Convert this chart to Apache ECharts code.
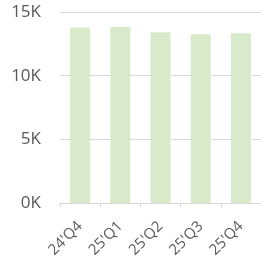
<!DOCTYPE html>
<html>
<head>
<meta charset="utf-8">
<script src="https://cdn.jsdelivr.net/npm/echarts@6/dist/echarts.min.js"></script>
<style>
  html, body { margin: 0; padding: 0; background: #fff; }
  #chart { width: 261px; height: 272px; }
</style>
</head>
<body>
<div id="chart"></div>
<script>
const quarters = ["24'Q4", "25'Q1", "25'Q2", "25'Q3", "25'Q4"]
const values = [13780, 13820, 13410, 13250, 13330]
const yTicks = [0, 5000, 10000, 15000]

const chart = echarts.init(document.getElementById('chart'))

chart.setOption({
  animation: false,
  grid: { left: 60, top: 12, width: 202, height: 191 },
  xAxis: {
    type: 'category',
    data: quarters,
    axisLine: { lineStyle: { color: '#d9d9d9', width: 1 } },
    axisTick: { show: true, length: 4, lineStyle: { color: '#d9d9d9' } },
    axisLabel: {
      rotate: 45,
      color: '#595959',
      fontSize: 15,
      fontFamily: 'Open Sans',
      margin: 21,
    },
  },
  yAxis: {
    type: 'value',
    min: yTicks[0],
    max: yTicks[yTicks.length - 1],
    interval: 5000,
    axisLine: { show: false },
    axisTick: { show: false },
    splitLine: { lineStyle: { color: '#d9d9d9', width: 1 } },
    axisLabel: {
      color: '#595959',
      fontSize: 17,
      fontFamily: 'Open Sans',
      margin: 19,
      formatter: (v) => v / 1000 + 'K',
    },
  },
  series: [
    {
      type: 'bar',
      data: values,
      barWidth: 20,
      itemStyle: { color: '#d7ebcb' },
    },
  ],
})
</script>
</body>
</html>
